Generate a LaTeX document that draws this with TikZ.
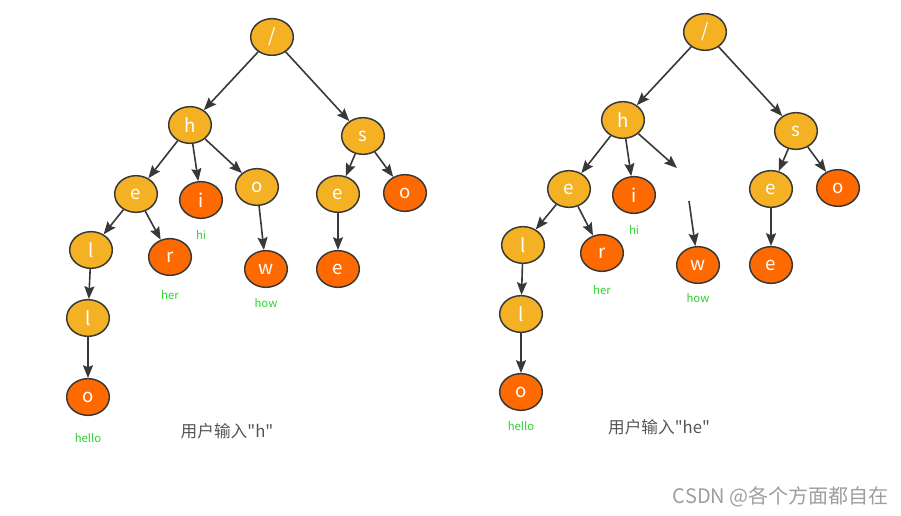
\documentclass[tikz,border=0pt]{standalone}
\usepackage{fontspec}
\setmainfont{Noto Sans CJK SC}[Ligatures=TeXOff]
\usepackage{xcolor}
\usetikzlibrary{shapes.geometric,arrows.meta}
\definecolor{trunk}{HTML}{F4B124}
\definecolor{leaf}{HTML}{FF6A00}
\definecolor{rim}{HTML}{383838}
\definecolor{word}{HTML}{2ED22E}
\definecolor{note}{HTML}{555555}

\begin{document}
\begin{tikzpicture}[x=0.75pt,y=-0.75pt]
	\tikzstyle{every node}+=[inner sep=0pt]
	\tikzstyle{letter}=[ellipse,draw=rim,line width=1.1pt,minimum width=32pt,minimum height=27.5pt,text=white,font=\fontsize{14}{16}\selectfont]
	\tikzstyle{mid}=[letter,fill=trunk]
	\tikzstyle{end}=[letter,fill=leaf]
	\tikzstyle{wordlabel}=[text=word,font=\fontsize{8.5}{10}\selectfont]
	\tikzstyle{link}=[draw=rim,line width=1.2pt,-{Stealth[length=9.5pt,width=7.5pt,inset=1.5pt]}]
	\useasboundingbox (0,0) rectangle (901,516);
	% left tree: input "h"
	\node [mid] (aroot) at (272,37) {/};
	\node [mid] (ah) at (190,125) {h};
	\node [mid] (as) at (363,136) {s};
	\node [mid] (ae) at (136,194) {e};
	\node [end] (ai) at (201,200) {i};
	\node [mid] (ao) at (257,187) {o};
	\node [mid] (ase) at (338,194) {e};
	\node [end] (aso) at (405,193) {o};
	\node [mid] (al1) at (91,250) {l};
	\node [end] (ar) at (170,257) {r};
	\node [end] (aw) at (266,269) {w};
	\node [end] (asee) at (338,269) {e};
	\node [mid] (al2) at (88,318) {l};
	\node [end] (alo) at (88,397) {o};
	\draw [link] (aroot) -- (ah);
	\draw [link] (aroot) -- (as);
	\draw [link] (ah) -- (ae);
	\draw [link] (ah) -- (ai);
	\draw [link] (ah) -- (ao);
	\draw [link] (as) -- (ase);
	\draw [link] (as) -- (aso);
	\draw [link] (ae) -- (al1);
	\draw [link] (ae) -- (ar);
	\draw [link] (ao) -- (aw);
	\draw [link] (ase) -- (asee);
	\draw [link] (al1) -- (al2);
	\draw [link] (al2) -- (alo);
	\node [wordlabel] (ahi) at (201,235) {hi};
	\node [wordlabel] (aher) at (170,295) {her};
	\node [wordlabel] (ahow) at (266,303) {how};
	\node [wordlabel] (ahello) at (88,438) {hello};
	\node [text=note,font=\fontsize{12.5}{14}\selectfont] (acap) at (227,431) {用户输入"h"};
	% right tree: input "he"
	\node [mid] (broot) at (705,32) {/};
	\node [mid] (bh) at (623,120) {h};
	\node [mid] (bs) at (796,131) {s};
	\node [mid] (be) at (569,189) {e};
	\node [end] (bi) at (634,195) {i};
	\coordinate (bgap) at (677,168);
	\coordinate (bcut) at (689,201);
	\node [mid] (bse) at (771,189) {e};
	\node [end] (bso) at (838,188) {o};
	\node [mid] (bl1) at (523,245) {l};
	\node [end] (br) at (602,253) {r};
	\node [end] (bw) at (698,265) {w};
	\node [end] (bsee) at (771,265) {e};
	\node [mid] (bl2) at (521,314) {l};
	\node [end] (blo) at (521,392) {o};
	\draw [link] (broot) -- (bh);
	\draw [link] (broot) -- (bs);
	\draw [link] (bh) -- (be);
	\draw [link] (bh) -- (bi);
	\draw [link] (bh) -- (bgap);
	\draw [link] (bs) -- (bse);
	\draw [link] (bs) -- (bso);
	\draw [link] (be) -- (bl1);
	\draw [link] (be) -- (br);
	\draw [link] (bcut) -- (bw);
	\draw [link] (bse) -- (bsee);
	\draw [link] (bl1) -- (bl2);
	\draw [link] (bl2) -- (blo);
	\node [wordlabel] (bhi) at (634,230) {hi};
	\node [wordlabel] (bher) at (602,290) {her};
	\node [wordlabel] (bhow) at (698,298) {how};
	\node [wordlabel] (bhello) at (521,426) {hello};
	\node [text=note,font=\fontsize{12.5}{14}\selectfont] (bcap) at (659,427) {用户输入"he"};
	\node [anchor=east,text=black!38,font=\fontsize{15}{17}\selectfont] (mark) at (889,497) {CSDN @各个方面都自在};
\end{tikzpicture}
\end{document}
